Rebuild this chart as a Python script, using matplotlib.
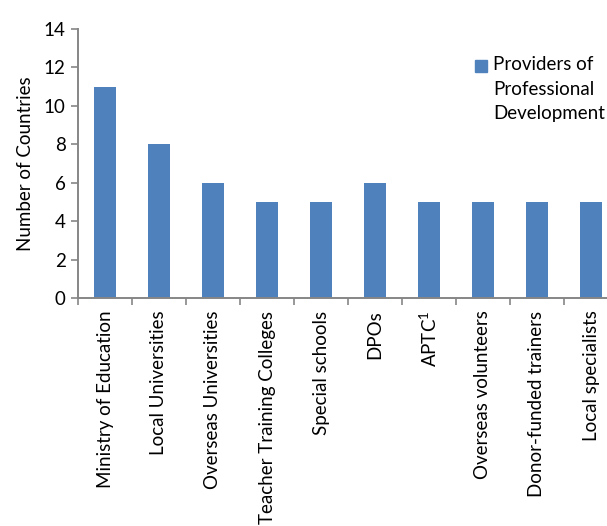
#!/usr/bin/env python3

import matplotlib.pyplot as plt
from matplotlib.patches import Rectangle
import numpy as np

categories = [
    "Ministry of Education",
    "Local Universities",
    "Overseas Universities",
    "Teacher Training Colleges",
    "Special schools",
    "DPOs",
    "APTC$^{\\mathregular{1}}$",
    "Overseas volunteers",
    "Donor-funded trainers",
    "Local specialists",
]
counts = [11, 8, 6, 5, 5, 6, 5, 5, 5, 5]
series_name = "Providers of\nProfessional\nDevelopment"

plt.rcParams["font.family"] = ["Lato", "DejaVu Sans"]
axis_grey = "#868686"
bar_color = "#4F81BD"
fs = 13.5

fig = plt.figure(figsize=(6.07, 5.26), dpi=100)
W, H = 607, 526
ax = fig.add_axes([78 / W, (H - 298) / H, (618 - 78) / W, 269 / H])

x = np.arange(len(categories))
ax.bar(x, counts, width=0.39, color=bar_color)

ax.set_xlim(-0.5, len(categories) - 0.5)
ax.set_ylim(0, 14)
ax.set_yticks(range(0, 15, 2))

ax.set_xticks(x)
ax.set_xticklabels(categories, rotation=90, fontsize=fs)
ax.set_xticks(np.arange(-0.5, len(categories)), minor=True)
ax.tick_params(axis="x", which="major", length=0, pad=9)
ax.tick_params(axis="x", which="minor", length=5, color=axis_grey, width=1.2)
ax.tick_params(axis="y", length=5, color=axis_grey, width=1.2, labelsize=fs, pad=4)

for side in ["top", "right"]:
    ax.spines[side].set_visible(False)
for side in ["left", "bottom"]:
    ax.spines[side].set_color(axis_grey)
    ax.spines[side].set_linewidth(1.4)

ax.set_ylabel("Number of Countries", fontsize=fs, labelpad=7)

# legend drawn by hand so the swatch sits on the first line
fig.patches.append(Rectangle((475 / W, 1 - 72 / H), 12 / W, 12 / H,
                             transform=fig.transFigure, color=bar_color))
fig.text(493 / W, 1 - 56 / H, series_name, fontsize=fs, va="top", ha="left",
         linespacing=1.55)

fig.savefig("out.png", dpi=100)
